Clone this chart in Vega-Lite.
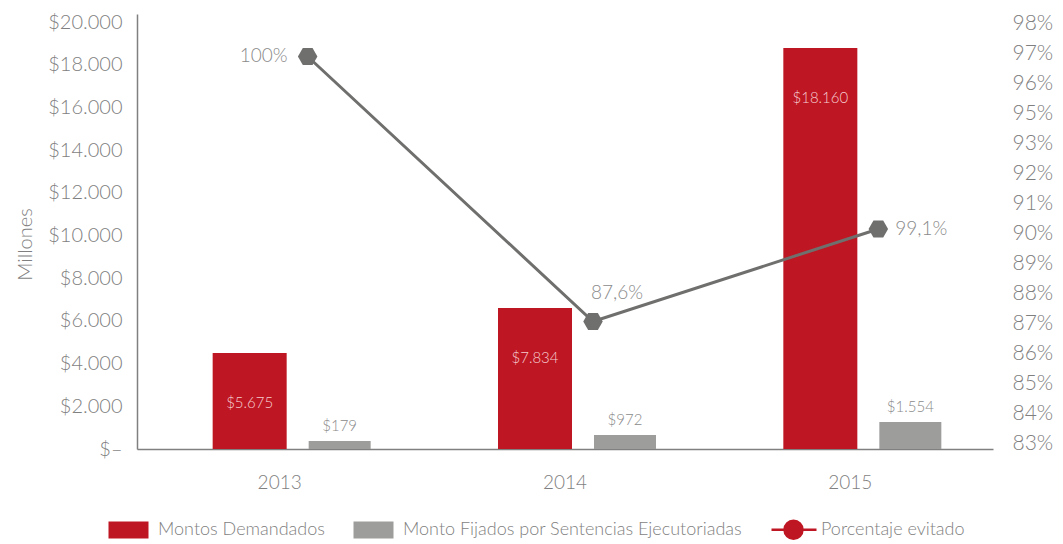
{
  "$schema": "https://vega.github.io/schema/vega-lite/v6.json",
  "width": 856,
  "height": 435,
  "autosize": {"type": "none"},
  "padding": {"left": 137, "top": 14, "right": 70, "bottom": 95},
  "background": "white",
  "config": {
    "view": {"stroke": null},
    "font": "Lato",
    "text": {"font": "Lato", "fontWeight": 300},
    "axis": {
      "labelFont": "Lato", "labelFontWeight": 300, "labelColor": "#7f7f7f", "labelFontSize": 20,
      "titleFont": "Lato", "titleFontWeight": 300, "titleColor": "#7f7f7f", "titleFontSize": 20,
      "ticks": false, "grid": false, "domainColor": "#808080", "domainWidth": 1.5, "labelOverlap": false
    }
  },
  "datasets": {
    "bars": [
      {"year": "2013", "series": "Montos Demandados", "value": 4496, "label": "$5.675"},
      {"year": "2014", "series": "Montos Demandados", "value": 6604, "label": "$7.834"},
      {"year": "2015", "series": "Montos Demandados", "value": 18782, "label": "$18.160"},
      {"year": "2013", "series": "Monto Fijados por Sentencias Ejecutoriadas", "value": 375, "label": "$179"},
      {"year": "2014", "series": "Monto Fijados por Sentencias Ejecutoriadas", "value": 656, "label": "$972"},
      {"year": "2015", "series": "Monto Fijados por Sentencias Ejecutoriadas", "value": 1265, "label": "$1.554"}
    ],
    "pct": [
      {"year": "2013", "value": 96.56, "label": "100%"},
      {"year": "2014", "value": 87.08, "label": "87,6%"},
      {"year": "2015", "value": 90.39, "label": "99,1%"}
    ]
  },
  "layer": [
    {
      "data": {"name": "bars"},
      "layer": [
        {
          "transform": [{"filter": "datum.series === 'Montos Demandados'"}],
          "mark": {"type": "bar", "width": 74, "xOffset": -30},
          "encoding": {
            "x": {"field": "year", "type": "nominal", "scale": {"domain": ["2013", "2014", "2015"], "paddingInner": 0, "paddingOuter": 0},
                  "axis": {"title": null, "labelAngle": 0, "labelPadding": 24, "domain": true, "labelFontSize": 19}},
            "y": {"field": "value", "type": "quantitative", "scale": {"domain": [0, 20375], "nice": false, "zero": true},
                  "axis": {"title": "Millones", "orient": "left", "tickCount": 20, "values": [0, 2000, 4000, 6000, 8000, 10000, 12000, 14000, 16000, 18000, 20000],
                           "labelExpr": "datum.value == 0 ? '$–' : '$' + replace(format(datum.value, ',d'), ',', '.')",
                           "labelOverlap": false,
                           "labelPadding": 15, "titleAngle": -90, "titleX": -112, "titleY": 230, "titleBaseline": "middle", "titleAlign": "center"}},
            "color": {"field": "series", "type": "nominal",
                      "scale": {"domain": ["Montos Demandados", "Monto Fijados por Sentencias Ejecutoriadas", "Porcentaje evitado"], "range": ["#BE1622", "#9D9D9C", "#BE1622"]},
                      "legend": {"orient": "none", "legendX": -30, "legendY": 504, "direction": "horizontal", "title": null,
                                 "labelFontSize": 18, "labelFont": "Lato", "labelFontWeight": 300, "labelColor": "#7f7f7f", "labelLimit": 0,
                                 "symbolSize": 400, "labelOffset": 28, "columnPadding": 23,
                                 "encode": {"symbols": {"update": {
                                   "shape": {"signal": "datum.value === 'Porcentaje evitado' ? 'M-1,0H3.5M0.3,0A0.9,0.9 0 1,1 2.1,0A0.9,0.9 0 1,1 0.3,0Z' : 'M-1,-0.85H3V0.85H-1Z'"},
                                   "stroke": {"signal": "datum.value === 'Porcentaje evitado' ? '#BE1622' : 'transparent'"},
                                   "strokeWidth": {"value": 2.5}
                                 }}}}}
          }
        },
        {
          "transform": [{"filter": "datum.series === 'Montos Demandados'"}],
          "mark": {"type": "text", "dy": 50, "xOffset": -30, "fontSize": 15, "color": "#F5CDD0", "baseline": "middle"},
          "encoding": {
            "x": {"field": "year", "type": "nominal"},
            "y": {"field": "value", "type": "quantitative"},
            "text": {"field": "label"}
          }
        },
        {
          "transform": [{"filter": "datum.series !== 'Montos Demandados'"}],
          "mark": {"type": "bar", "width": 62, "xOffset": 60},
          "encoding": {
            "x": {"field": "year", "type": "nominal"},
            "y": {"field": "value", "type": "quantitative"},
            "color": {"field": "series", "type": "nominal"}
          }
        },
        {
          "transform": [{"filter": "datum.series !== 'Montos Demandados'"}],
          "mark": {"type": "text", "dy": -15, "xOffset": 60, "fontSize": 15, "color": "#8a8a8a", "baseline": "middle"},
          "encoding": {
            "x": {"field": "year", "type": "nominal"},
            "y": {"field": "value", "type": "quantitative"},
            "text": {"field": "label"}
          }
        }
      ]
    },
    {
      "data": {"name": "pct"},
      "layer": [
        {
          "mark": {"type": "line", "color": "#6F6F6E", "strokeWidth": 3, "xOffset": 28},
          "encoding": {
            "x": {"field": "year", "type": "nominal"},
            "y": {"field": "value", "type": "quantitative", "scale": {"domain": [82.52, 98.08], "nice": false, "zero": false},
                  "axis": {"title": null, "orient": "right", "domain": false, "labelPadding": 19, "labelOverlap": false, "labelFontSize": 21, "tickCount": 30,
                           "values": [82.7, 83.775, 84.85, 85.925, 87.0, 88.075, 89.15, 90.225, 91.3, 92.375, 93.45, 94.525, 95.6, 96.675, 97.75],
                           "labelExpr": "round(datum.value) + '%'"}}
          }
        },
        {
          "mark": {"type": "point", "shape": "M-1,0L-0.5,-0.866L0.5,-0.866L1,0L0.5,0.866L-0.5,0.866Z", "size": 380, "filled": true, "color": "#6F6F6E", "opacity": 1, "xOffset": 28},
          "encoding": {
            "x": {"field": "year", "type": "nominal"},
            "y": {"field": "value", "type": "quantitative"}
          }
        },
        {
          "transform": [{"filter": "datum.year === '2013'"}],
          "mark": {"type": "text", "align": "right", "baseline": "middle", "dx": 8, "fontSize": 19, "color": "#8a8a8a"},
          "encoding": {
            "x": {"field": "year", "type": "nominal"},
            "y": {"field": "value", "type": "quantitative"},
            "text": {"field": "label"}
          }
        },
        {
          "transform": [{"filter": "datum.year === '2014'"}],
          "mark": {"type": "text", "align": "center", "baseline": "middle", "dx": 52, "dy": -29, "fontSize": 19, "color": "#8a8a8a"},
          "encoding": {
            "x": {"field": "year", "type": "nominal"},
            "y": {"field": "value", "type": "quantitative"},
            "text": {"field": "label"}
          }
        },
        {
          "transform": [{"filter": "datum.year === '2015'"}],
          "mark": {"type": "text", "align": "left", "baseline": "middle", "dx": 45, "fontSize": 19, "color": "#8a8a8a"},
          "encoding": {
            "x": {"field": "year", "type": "nominal"},
            "y": {"field": "value", "type": "quantitative"},
            "text": {"field": "label"}
          }
        }
      ]
    }
  ],
  "resolve": {"scale": {"y": "independent"}}
}
